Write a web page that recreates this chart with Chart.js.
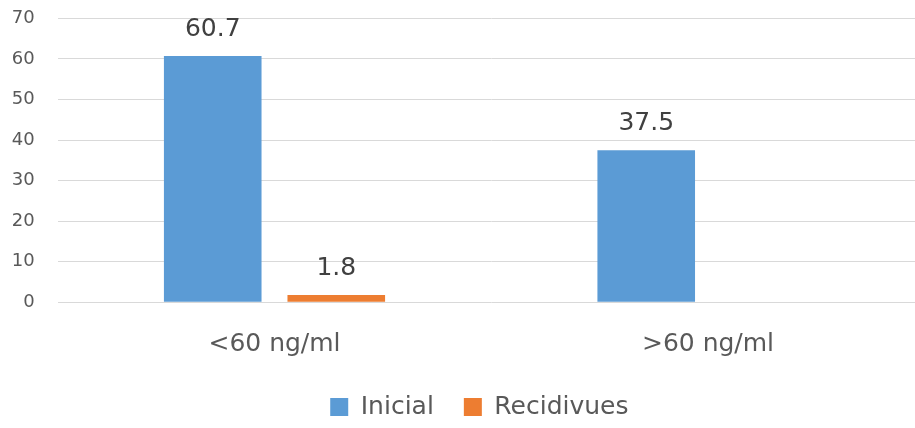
<!DOCTYPE html>
<html>
<head>
<meta charset="utf-8">
<script src="https://cdn.jsdelivr.net/npm/chart.js@4/dist/chart.umd.min.js"></script>
<style>
  html, body { margin: 0; padding: 0; background: #ffffff; overflow: hidden; }
  #wrap { position: relative; width: 958px; height: 428px; }
</style>
</head>
<body>
<div id="wrap"><canvas id="chart"></canvas></div>
<script>
// Vitamin D groups and the share of patients in each
const categories = ['<60 ng/ml', '>60 ng/ml'];
const seriesNames = ['Inicial', 'Recidivues'];
const inicialValues = [60.7, 37.5];
const recidivuesValues = [1.8, null];
const yTicks = [0, 10, 20, 30, 40, 50, 60, 70];

const FONT = 'DejaVu Sans';

// Writes each bar's value just above its top
const valueLabels = {
  id: 'valueLabels',
  afterDatasetsDraw(chart) {
    const ctx = chart.ctx;
    ctx.save();
    ctx.font = '25px "' + FONT + '"';
    ctx.fillStyle = '#404040';
    ctx.textAlign = 'center';
    ctx.textBaseline = 'alphabetic';
    chart.data.datasets.forEach((ds, i) => {
      const meta = chart.getDatasetMeta(i);
      meta.data.forEach((bar, j) => {
        const v = ds.data[j];
        if (v === null || v === undefined) return;
        ctx.fillText(String(v), bar.x, bar.y - 20);
      });
    });
    ctx.restore();
  }
};

// Nudges the legend row a little to the right of the canvas centre
const legendOffset = {
  id: 'legendOffset',
  afterLayout(chart) {
    const lg = chart.legend;
    if (!lg) return;
    lg.left += 17;
    lg.right += 17;
  }
};

new Chart(document.getElementById('chart'), {
  type: 'bar',
  data: {
    labels: categories,
    datasets: [
      { label: seriesNames[0], data: inicialValues, backgroundColor: '#5B9BD5', borderWidth: 0 },
      { label: seriesNames[1], data: recidivuesValues, backgroundColor: '#ED7D31', borderWidth: 0 }
    ]
  },
  options: {
    responsive: true,
    maintainAspectRatio: false,
    animation: false,
    categoryPercentage: 0.57,
    barPercentage: 0.79,
    layout: { padding: { top: 18.3, right: 33.25, left: 0, bottom: 0 } },
    plugins: {
      tooltip: { enabled: false },
      legend: {
        position: 'bottom',
        maxHeight: 63.4,
        labels: {
          font: { family: FONT, size: 25 },
          color: '#595959',
          boxWidth: 18,
          boxHeight: 18,
          padding: 30
        }
      }
    },
    scales: {
      x: {
        grid: { display: false },
        border: { display: false },
        ticks: { font: { family: FONT, size: 25 }, color: '#595959', padding: 19 },
        afterFit(scale) { scale.height = 62.3; }
      },
      y: {
        min: 0,
        max: 70,
        afterBuildTicks(scale) { scale.ticks = yTicks.map(v => ({ value: v })); },
        grid: { color: '#d9d9d9', lineWidth: 1, drawTicks: false },
        border: { display: false },
        ticks: { font: { family: FONT, size: 18 }, color: '#595959', padding: 23 },
        afterFit(scale) {
          scale.width = 57.75;
          scale.paddingTop = 0;
          scale.paddingBottom = 0;
        }
      }
    }
  },
  plugins: [valueLabels, legendOffset]
});
</script>
</body>
</html>
